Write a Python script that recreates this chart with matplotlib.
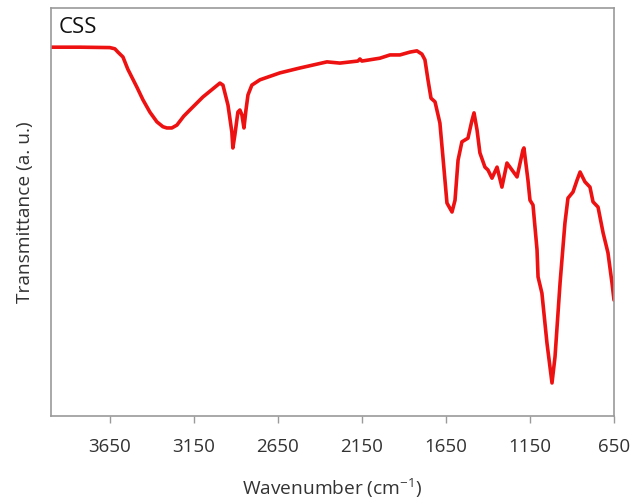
import matplotlib
matplotlib.use("Agg")
import matplotlib.pyplot as plt

plt.rcParams['font.family'] = ['Open Sans', 'DejaVu Sans']
plt.rcParams['mathtext.default'] = 'regular'

sample_label = "CSS"
wavenumber = [4000, 3828, 3650, 3620, 3602, 3572, 3543, 3489, 3453, 3412, 3370, 3334,
              3311, 3281, 3251, 3210, 3174, 3096, 2995,
              2977, 2947, 2924, 2918, 2906, 2888, 2876, 2864, 2852, 2840, 2828, 2805,
              2757, 2638, 2519, 2358, 2281, 2174, 2162, 2150, 2043, 1983, 1924, 1864,
              1823, 1793, 1775, 1757, 1739, 1715, 1686, 1668, 1644, 1614, 1596, 1578,
              1555, 1519, 1495, 1483, 1465, 1448, 1418, 1400, 1376, 1346, 1317, 1287,
              1257, 1227, 1192, 1186, 1162, 1150, 1132, 1108, 1102, 1079, 1049, 1019,
              1001, 971, 942, 924, 894, 870, 852, 823, 793, 775, 745, 715, 686, 662, 650]
transmittance = [90.4, 90.4, 90.3, 90.0, 89.2, 88.0, 85.0, 80.6, 77.5, 74.5, 72.1, 70.9,
                 70.6, 70.6, 71.3, 73.5, 75.0, 78.2, 81.6,
                 81.1, 76.2, 69.6, 65.7, 68.9, 74.5, 75.0, 73.8, 70.6, 75.0, 78.7, 81.1,
                 82.4, 84.1, 85.3, 86.8, 86.5, 87.0, 87.5, 87.0, 87.7, 88.5, 88.5, 89.2,
                 89.5, 88.7, 87.3, 82.4, 77.9, 77.0, 71.8, 63.5, 52.2, 50.0, 52.9, 62.7,
                 67.2, 68.1, 72.5, 74.3, 70.1, 64.5, 61.0, 60.3, 58.3, 61.0, 56.1, 62.0,
                 60.3, 58.6, 65.2, 65.7, 57.8, 52.9, 51.7, 40.7, 34.1, 30.1, 17.9, 8.1,
                 14.5, 32.6, 47.3, 53.4, 54.9, 57.8, 59.8, 57.4, 56.1, 52.5, 51.2, 44.9,
                 40.0, 32.6, 28.4]
x_ticks = [3650, 3150, 2650, 2150, 1650, 1150, 650]

fig = plt.figure(figsize=(6.33, 5.01), dpi=100)
ax = fig.add_axes([0.0806, 0.1697, 0.8894, 0.8143])
ax.plot(wavenumber, transmittance, color='#ee1111', lw=2.6,
        solid_joinstyle='round', solid_capstyle='round')
ax.set_xlim(4000, 650)
ax.set_ylim(0, 100)
ax.set_xticks(x_ticks)
ax.set_xticklabels([str(t) for t in x_ticks])
ax.set_yticks([])
for s in ax.spines.values():
    s.set_color('#9a9a9a')
    s.set_linewidth(1.2)
ax.tick_params(axis='x', direction='out', length=5, width=1, color='#9a9a9a',
               pad=11, labelsize=13.5, labelcolor='#333333')
ax.set_xlabel('Wavenumber (cm$^{-1}$)', fontsize=13.8, color='#333333', labelpad=15)
ax.set_ylabel('Transmittance (a. u.)', fontsize=13.8, color='#333333', labelpad=12)
ax.text(0.014, 0.978, sample_label, transform=ax.transAxes, ha='left', va='top',
        fontsize=16, color='#111111')
fig.savefig('out.png', dpi=100)
